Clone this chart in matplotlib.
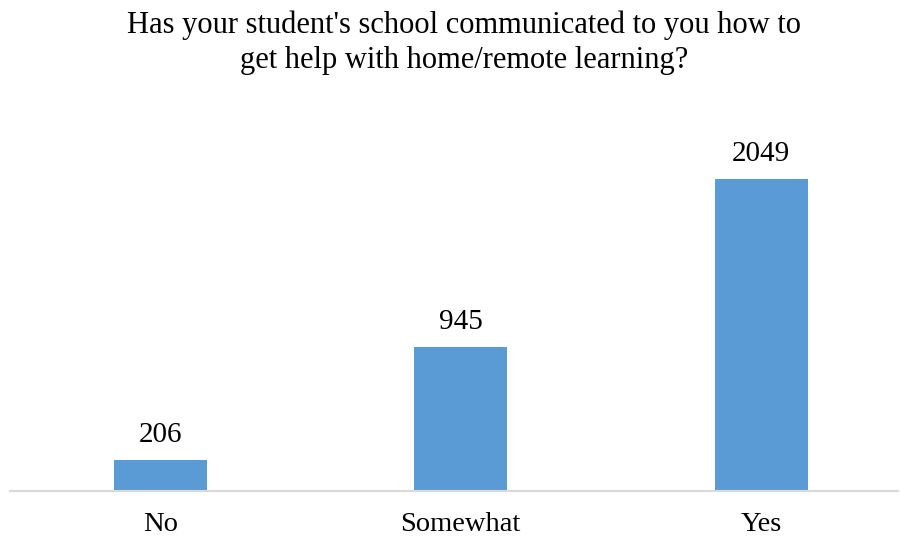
import matplotlib.pyplot as plt

categories = ['No', 'Somewhat', 'Yes']
counts = [206, 945, 2049]
title_lines = ["Has your student's school communicated to you how to",
               "get help with home/remote learning?"]

plt.rcParams['font.family'] = ['Liberation Serif', 'DejaVu Serif']

fig = plt.figure(figsize=(9, 5.39), dpi=100)
ax = fig.add_axes([0.011, 0.089, 0.987, 0.707])

x = range(len(categories))
bars = ax.bar(x, counts, width=0.31, color='#5B9BD5')
for b, v in zip(bars, counts):
    ax.annotate(str(v), (b.get_x() + b.get_width() / 2, v),
                xytext=(0, 13), textcoords='offset points',
                ha='center', va='baseline', fontsize=21, color='black')

ax.set_xlim(-0.5, 2.456)
ax.set_ylim(0, 2500)
ax.set_xticks(list(x))
ax.set_xticklabels(categories, fontsize=20.5)
ax.tick_params(axis='x', length=0, pad=15)
ax.set_yticks([])
for s in ['top', 'right', 'left']:
    ax.spines[s].set_visible(False)
ax.spines['bottom'].set_color('#D9D9D9')
ax.spines['bottom'].set_linewidth(1.5)

fig.text(0.5156, 0.9388, title_lines[0], ha='center', va='baseline', fontsize=22)
fig.text(0.5156, 0.8738, title_lines[1], ha='center', va='baseline', fontsize=22)

fig.savefig('out.png', dpi=100)
